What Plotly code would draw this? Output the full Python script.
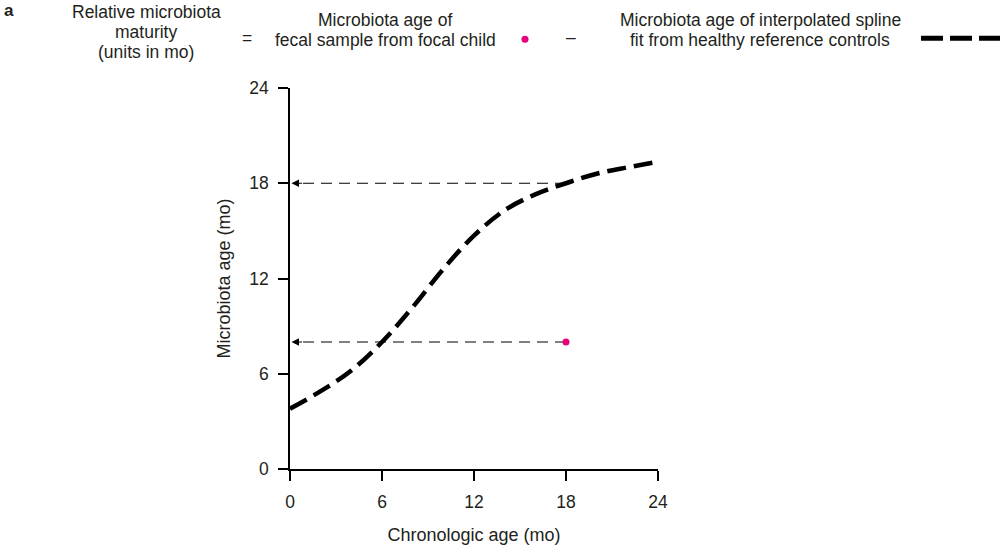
import plotly.graph_objects as go

# Healthy reference spline (microbiota age vs chronologic age)
spline_age = [0, 2, 4, 6, 8, 10, 12, 14, 16, 18, 20, 22, 24]
spline_microbiota = [3.8, 4.9, 6.2, 8.0, 10.2, 12.6, 14.7, 16.3, 17.3, 18.0, 18.6, 19.0, 19.35]

# Focal child's fecal sample
sample_age = [18]
sample_microbiota = [8]

tick_vals = [0, 6, 12, 18, 24]
tick_text = ["0", "6", "12", "18", "24"]

FONT = "Liberation Sans, Arial, sans-serif"
TXT = "#231f20"
PINK = "#e6007e"

W, H = 1000, 554
L, R, T, B = 290, 342, 88, 83
PW, PH = W - L - R, H - T - B


def px(x):
    return (x - L) / PW


def py(y):
    return (H - B - y) / PH


fig = go.Figure()

# Horizontal guides from the sample and from the spline at the same age
ref_at_sample = spline_microbiota[spline_age.index(sample_age[0])]
for level in [ref_at_sample, sample_microbiota[0]]:
    fig.add_trace(go.Scatter(
        x=[sample_age[0], 0.5], y=[level, level], mode="lines",
        line=dict(color="black", width=1, dash="11px,7px"),
        hoverinfo="skip", showlegend=False))
    fig.add_annotation(x=0.1, y=level, xref="x", yref="y", ax=12, ay=0,
                       text="", showarrow=True, arrowhead=2, arrowsize=1.5,
                       arrowwidth=1, arrowcolor="black")

fig.add_trace(go.Scatter(
    x=spline_age, y=spline_microbiota, mode="lines",
    line=dict(color="black", width=4.5, dash="19px,8px", shape="spline"),
    hoverinfo="skip", showlegend=False))

fig.add_trace(go.Scatter(
    x=sample_age, y=sample_microbiota, mode="markers",
    marker=dict(color=PINK, size=7), hoverinfo="skip", showlegend=False))

# Equation header, one annotation per line for tight line spacing
header_lines = [
    ("Relative microbiota", 146, 12),
    ("maturity", 146, 32),
    ("(units in mo)", 146, 52),
    ("=", 247, 38),
    ("Microbiota age of", 385, 20),
    ("fecal sample from focal child", 385, 40),
    ("\u2013", 571, 37),
    ("Microbiota age of interpolated spline", 760, 20),
    ("fit from healthy reference controls", 760, 40),
]
for text, x, y in header_lines:
    fig.add_annotation(x=px(x), y=py(y), xref="paper", yref="paper", text=text,
                       showarrow=False, xanchor="center", yanchor="middle",
                       font=dict(family=FONT, size=17.5, color=TXT))

# Panel letter
fig.add_annotation(x=px(3), y=py(0), xref="paper", yref="paper", text="<b>a</b>",
                   showarrow=False, xanchor="left", yanchor="top", borderpad=0,
                   font=dict(family=FONT, size=17, color=TXT))

fig.add_shape(type="circle", xref="paper", yref="paper", xsizemode="pixel",
              ysizemode="pixel", xanchor=px(525), yanchor=py(39),
              x0=-3.5, x1=3.5, y0=-3.5, y1=3.5, fillcolor=PINK, line=dict(width=0))
fig.add_shape(type="line", xref="paper", yref="paper", x0=px(921), x1=px(1000),
              y0=py(38), y1=py(38), line=dict(color="black", width=5, dash="22px,7px"))

axis_common = dict(
    showgrid=False, zeroline=False, showline=True, linecolor="black", linewidth=1.5,
    ticks="outside", ticklen=10, tickwidth=1.5, tickcolor="black",
    tickvals=tick_vals, ticktext=tick_text, ticklabelstandoff=6,
    tickfont=dict(family=FONT, size=17.5, color=TXT),
)

fig.update_layout(
    width=W, height=H,
    margin=dict(l=L, r=R, t=T, b=B),
    plot_bgcolor="white", paper_bgcolor="white",
    xaxis=dict(range=[0, 24], title=dict(text="Chronologic age (mo)", standoff=18,
               font=dict(family=FONT, size=18, color=TXT)), **axis_common),
    yaxis=dict(range=[0, 24], title=dict(text="Microbiota age (mo)", standoff=14,
               font=dict(family=FONT, size=18, color=TXT)), **axis_common),
)

fig.write_html("out.html")
